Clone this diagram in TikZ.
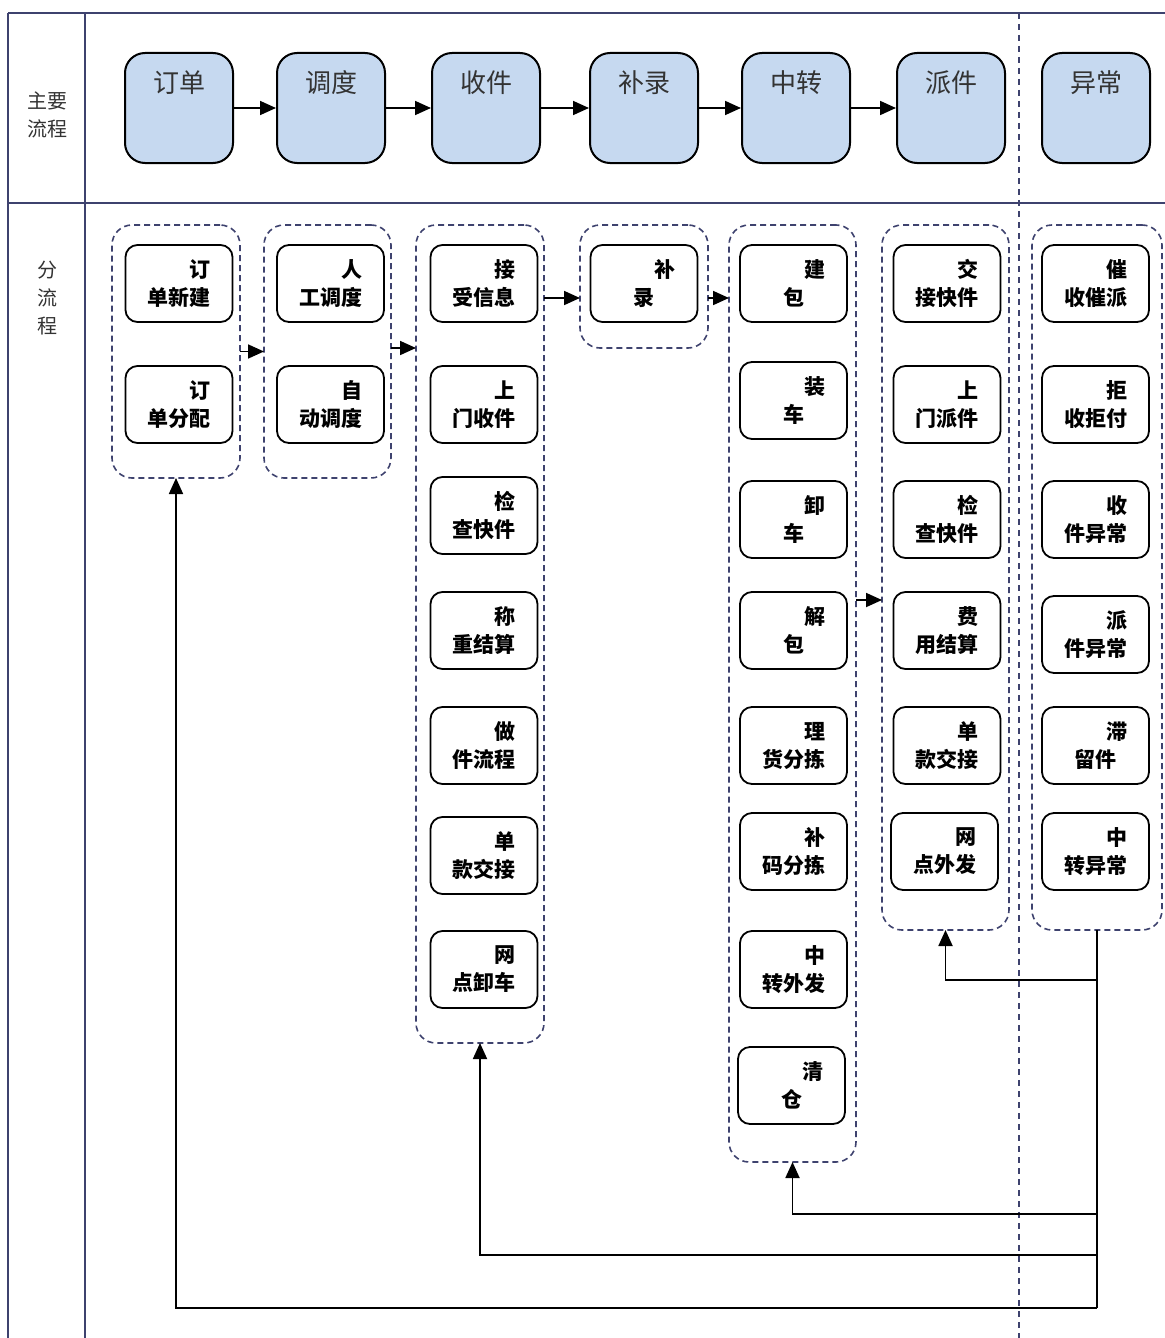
\documentclass[tikz,border=0pt]{standalone}
\usepackage{fontspec}
\usepackage{tikz}
\usetikzlibrary{arrows.meta}
\newfontfamily\cjk{Noto Sans CJK SC}
\definecolor{lane}{RGB}{62,66,110}
\definecolor{mainfill}{RGB}{198,217,240}
\newcommand{\subtxt}[2]{\makebox[3em][r]{#1}\\#2}

\tikzset{
  mainbox/.style={draw=black, fill=mainfill, line width=1pt, rounded corners=10pt,
    minimum width=54pt, minimum height=55pt, inner sep=0pt,
    font=\cjk\fontsize{13}{15}\selectfont, text=black!80, text depth=26pt},
  subbox/.style={draw=black, line width=0.9pt, rounded corners=6pt,
    minimum width=53.5pt, minimum height=38.5pt, inner sep=0pt, align=center,
    font=\cjk\bfseries\fontsize{10.5}{14}\selectfont},
  group/.style={draw=lane, dashed, dash pattern=on 3pt off 2pt, line width=0.8pt,
    rounded corners=10pt, inner sep=0pt, outer sep=0pt},
  lanelabel/.style={align=center, font=\cjk\fontsize{10}{14}\selectfont, text=black!80},
  arr/.style={-{Triangle[length=8pt,width=7pt]}, line width=0.9pt}
}

\begin{document}
\begin{tikzpicture}[x=0.5pt,y=-0.5pt]
    \useasboundingbox (0,0) rectangle (1165,1338);
    % lanes
    \draw[lane, line width=1pt] (8,13) -- (1165,13);
    \draw[lane, line width=1pt] (8,203) -- (1165,203);
    \draw[lane, line width=1pt] (8,13) -- (8,1338);
    \draw[lane, line width=1pt] (85,13) -- (85,1338);
    \draw[lane, dashed, dash pattern=on 3pt off 2.5pt, line width=0.8pt] (1019,13) -- (1019,1338);
    \node[lanelabel] (mainlabel) at (47,115) {主要\\流程};
    \node[lanelabel] (sublabel) at (47,298) {分\\流\\程};

    % main flow
    \node[mainbox] (order) at (179,108) {订单};
    \node[mainbox] (dispatch) at (331,108) {调度};
    \node[mainbox] (pickup) at (486,108) {收件};
    \node[mainbox] (supp) at (644,108) {补录};
    \node[mainbox] (transit) at (796,108) {中转};
    \node[mainbox] (deliver) at (951,108) {派件};
    \node[mainbox] (abnormal) at (1096,108) {异常};
    \draw[arr] (order) -- (dispatch);
    \draw[arr] (dispatch) -- (pickup);
    \draw[arr] (pickup) -- (supp);
    \draw[arr] (supp) -- (transit);
    \draw[arr] (transit) -- (deliver);

    % groups
    \node[group, minimum width=64pt, minimum height=126.5pt] (g1) at (176,351.5) {};
    \node[group, minimum width=63.5pt, minimum height=126.5pt] (g2) at (327.5,351.5) {};
    \node[group, minimum width=64pt, minimum height=409pt] (g3) at (480,634) {};
    \node[group, minimum width=64pt, minimum height=61.5pt] (g4) at (644,286.5) {};
    \node[group, minimum width=63.5pt, minimum height=468.5pt] (g5) at (792.5,693.5) {};
    \node[group, minimum width=63.5pt, minimum height=352.5pt] (g6) at (945.5,577.5) {};
    \node[group, minimum width=65pt, minimum height=352.5pt] (g7) at (1097,577.5) {};

    % order
    \node[subbox] (o1) at (179,283.5) {\subtxt{订}{单新建}};
    \node[subbox] (o2) at (179,404.5) {\subtxt{订}{单分配}};
    % dispatch
    \node[subbox] (d1) at (330.5,283.5) {\subtxt{人}{工调度}};
    \node[subbox] (d2) at (330.5,404.5) {\subtxt{自}{动调度}};
    % pickup
    \node[subbox] (p1) at (484,283.5) {\subtxt{接}{受信息}};
    \node[subbox] (p2) at (484,404.5) {\subtxt{上}{门收件}};
    \node[subbox] (p3) at (484,515.5) {\subtxt{检}{查快件}};
    \node[subbox] (p4) at (484,630.5) {\subtxt{称}{重结算}};
    \node[subbox] (p5) at (484,745.5) {\subtxt{做}{件流程}};
    \node[subbox] (p6) at (484,855.5) {\subtxt{单}{款交接}};
    \node[subbox] (p7) at (484,969.5) {\subtxt{网}{点卸车}};
    % supplement
    \node[subbox] (s1) at (644,283.5) {\subtxt{补}{录}};
    % transit
    \node[subbox] (t1) at (793.5,283.5) {\subtxt{建}{包}};
    \node[subbox] (t2) at (793.5,400.5) {\subtxt{装}{车}};
    \node[subbox] (t3) at (793.5,519.5) {\subtxt{卸}{车}};
    \node[subbox] (t4) at (793.5,630.5) {\subtxt{解}{包}};
    \node[subbox] (t5) at (793.5,745.5) {\subtxt{理}{货分拣}};
    \node[subbox] (t6) at (793.5,851.5) {\subtxt{补}{码分拣}};
    \node[subbox] (t7) at (793.5,969.5) {\subtxt{中}{转外发}};
    \node[subbox] (t8) at (791.5,1085.5) {\subtxt{清}{仓}};
    % deliver
    \node[subbox] (v1) at (947,283.5) {\subtxt{交}{接快件}};
    \node[subbox] (v2) at (947,404.5) {\subtxt{上}{门派件}};
    \node[subbox] (v3) at (947,519.5) {\subtxt{检}{查快件}};
    \node[subbox] (v4) at (947,630.5) {\subtxt{费}{用结算}};
    \node[subbox] (v5) at (947,745.5) {\subtxt{单}{款交接}};
    \node[subbox] (v6) at (944.5,851.5) {\subtxt{网}{点外发}};
    % abnormal
    \node[subbox] (a1) at (1095.5,283.5) {\subtxt{催}{收催派}};
    \node[subbox] (a2) at (1095.5,404.5) {\subtxt{拒}{收拒付}};
    \node[subbox] (a3) at (1095.5,519.5) {\subtxt{收}{件异常}};
    \node[subbox] (a4) at (1095.5,634.5) {\subtxt{派}{件异常}};
    \node[subbox] (a5) at (1095.5,745.5) {\subtxt{滞}{留件}};
    \node[subbox] (a6) at (1095.5,851.5) {\subtxt{中}{转异常}};

    % group links
    \draw[arr] (g1.east) -- (g2.west |- g1.east);
    \draw[arr] (g2.east |- 0,348) -- (g3.west |- 0,348);
    \draw[arr] (g3.east |- 0,298) -- (g4.west |- 0,298);
    \draw[arr] (g4.east |- 0,298) -- (g5.west |- 0,298);
    \draw[arr] (g5.east |- 0,600) -- (g6.west |- 0,600);

    % feedback
    \draw[line width=1.1pt] (g7.south) -- (g7.south |- 0,1308);
    \draw[arr] (g7.south |- 0,980) -| (g6.south);
    \draw[arr] (g7.south |- 0,1214) -| (g5.south);
    \draw[arr] (g7.south |- 0,1255) -| (g3.south);
    \draw[arr] (g7.south |- 0,1308) -| (g1.south);
\end{tikzpicture}
\end{document}
